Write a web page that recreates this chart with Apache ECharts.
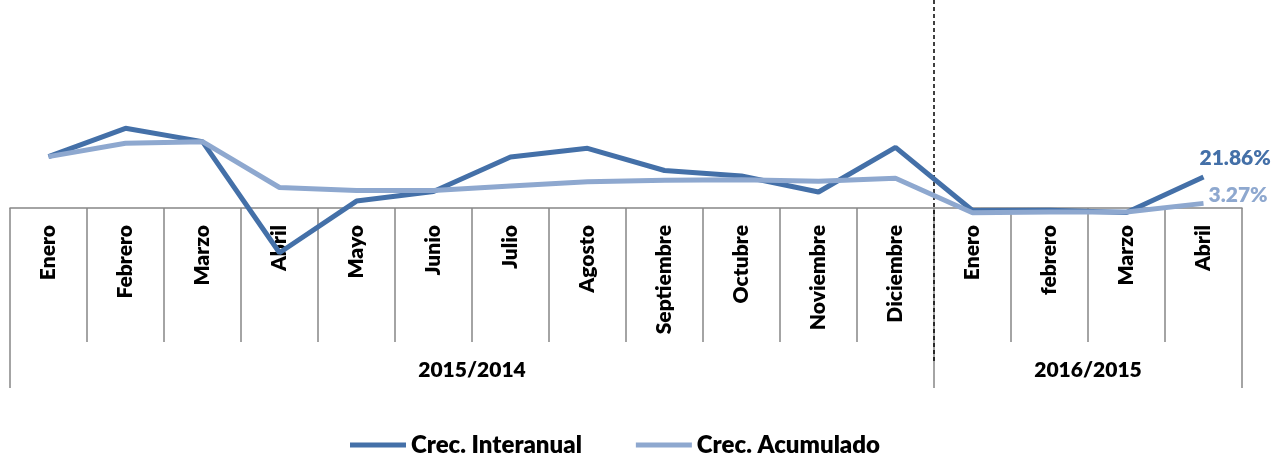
<!DOCTYPE html>
<html><head><meta charset="utf-8">
<script src="https://cdn.jsdelivr.net/npm/echarts@6/dist/echarts.min.js"></script>
<style>html,body{margin:0;padding:0;background:#fff}#c{width:1283px;height:453px}</style>
</head><body><div id="c"></div>
<script>
const months = ['Enero','Febrero','Marzo','Abril','Mayo','Junio','Julio','Agosto','Septiembre','Octubre','Noviembre','Diciembre','Enero','febrero','Marzo','Abril'];
const groupNames = ['2015/2014','2016/2015'];
const groupSizes = [12, 4];
const interanual = [36.3,56.3,46.9,-31.6,4.9,11.7,36.0,42.2,26.5,22.6,11.3,42.8,-1.8,-1.6,-3.2,21.86];
const acumulado = [36.3,45.7,46.9,14.5,12.4,12.4,15.5,18.5,19.6,20.0,18.9,21.0,-3.3,-2.8,-2.8,3.27];
const seriesNames = ['Crec. Interanual','Crec. Acumulado'];

const bounds = [0];
groupSizes.forEach(s => bounds.push(bounds[bounds.length-1] + s));
const centers = groupSizes.map((s,i) => bounds[i] + s/2);
const total = bounds[bounds.length-1];

const DARK = '#4470A8', LIGHT = '#8EA8CF', GRAY = '#878787';
const W = 800;
const font = {fontFamily:'Lato', fontWeight:W, fontSize:21, color:'#000'};

const chart = echarts.init(document.getElementById('c'));
chart.setOption({
  animation:false,
  backgroundColor:'#fff',
  grid:{left:10, right:41, top:0, bottom:245, containLabel:false, outerBoundsMode:'none'},
  xAxis:[
    {type:'category', data:months, boundaryGap:true,
     axisLine:{onZero:true, lineStyle:{color:GRAY, width:1.5}},
     axisTick:{show:true, length:134, lineStyle:{color:GRAY, width:1.5}},
     axisLabel:Object.assign({rotate:90, margin:17, interval:0, hideOverlap:false}, font),
     splitLine:{show:false}},
    {type:'value', min:0, max:total, position:'bottom',
     axisLine:{show:false, onZero:false},
     axisTick:{show:true, customValues:bounds, length:180, lineStyle:{color:GRAY, width:1.5}},
     axisLabel:Object.assign({customValues:centers, margin:152, formatter:v => groupNames[centers.indexOf(v)]}, font),
     splitLine:{show:false}},
    {type:'value', min:0, max:total, position:'top',
     axisLine:{show:false, onZero:false},
     axisTick:{show:true, inside:true, customValues:[bounds[1]], length:362, lineStyle:{color:'#000', width:1.5, type:[4,3]}},
     axisLabel:{show:false},
     splitLine:{show:false}}
  ],
  yAxis:{type:'value', min:0, max:147, show:false, splitLine:{show:false}},
  legend:{left:345, top:428, itemWidth:56, itemHeight:5, itemGap:54, icon:'rect',
    textStyle:Object.assign({}, font, {fontSize:24}), data:seriesNames},
  series:[
    {type:'line', name:seriesNames[0], data:interanual, symbol:'none', clip:false,
     lineStyle:{color:DARK, width:5}, itemStyle:{color:DARK},
     endLabel:{show:true, formatter:p => p.value.toFixed(2)+'%', distance:5, offset:[-9,-19],
       fontFamily:'Lato', fontWeight:W, fontSize:21, color:DARK}},
    {type:'line', name:seriesNames[1], data:acumulado, symbol:'none', clip:false,
     lineStyle:{color:LIGHT, width:5}, itemStyle:{color:LIGHT},
     endLabel:{show:true, formatter:p => p.value.toFixed(2)+'%', distance:5, offset:[0,-8],
       fontFamily:'Lato', fontWeight:W, fontSize:21, color:LIGHT}}
  ]
});
</script></body></html>
